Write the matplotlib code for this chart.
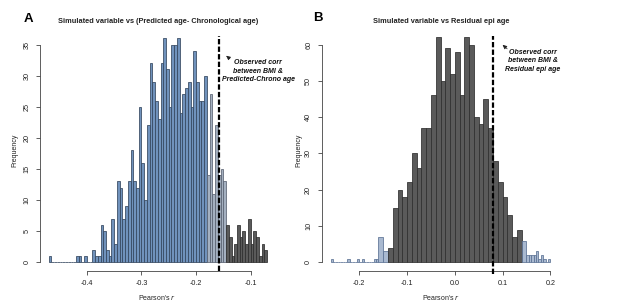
import numpy as np
import matplotlib
matplotlib.use("Agg")
import matplotlib.pyplot as plt

plt.rcParams['font.family'] = ['Liberation Sans', 'DejaVu Sans']

# ---------------- Panel A data (bins of 0.005 starting at -0.47) ----------------
a_bin_start = -0.47
a_bin_width = 0.005
a_counts = [1, 0, 0, 0, 0, 0, 0, 0, 0, 0,
            1, 1, 0, 1, 0, 0, 2, 1, 1, 6,
            5, 2, 1, 7, 3, 13, 12, 7, 9, 13,
            18, 13, 12, 25, 16, 10, 22, 32, 29, 26,
            23, 32, 36, 31, 25, 35, 35, 36, 24, 27,
            28, 29, 25, 34, 29, 26, 26, 30, 14, 27,
            11, 22, 14, 15, 13, 6, 4, 1, 3, 6,
            4, 5, 3, 7, 3, 5, 4, 1, 3, 2]
a_blend_from = -0.18     # bars from here are drawn in the blended tone
a_tail_from = -0.145     # bars from here are drawn dark grey
a_observed = -0.158
a_xticks = [-0.4, -0.3, -0.2, -0.1]
a_xticklabels = ["-0.4", "-0.3", "-0.2", "-0.1"]
a_yticks = [0, 5, 10, 15, 20, 25, 30, 35]
a_title = "Simulated variable vs (Predicted age- Chronological age)"
a_note = "Observed corr\nbetween BMI &\nPredicted-Chrono age"

# ---------------- Panel B data ----------------
b_main_start = -0.16
b_main_width = 0.01
b_main_counts = [7, 3, 4, 15, 20, 18, 22, 30, 26, 37,
                 37, 46, 62, 50, 59, 52, 58, 46, 62, 60,
                 40, 38, 45, 37, 28, 22, 18, 13, 7, 9, 6]
b_core_range = (-0.14, 0.14)   # dark grey bars inside this range
b_tail_width = 0.005
b_left_tail_start = -0.26
b_left_tail_counts = [1, 0, 0, 0, 0, 0, 0, 1, 0, 0,
                      0, 1, 0, 1, 0, 0, 0, 0, 1, 1]
b_right_tail_start = 0.15
b_right_tail_counts = [2, 2, 2, 2, 3, 1, 2, 1, 0, 1]
b_observed = 0.081
b_xticks = [-0.2, -0.1, 0.0, 0.1, 0.2]
b_xticklabels = ["-0.2", "-0.1", "0.0", "0.1", "0.2"]
b_yticks = [0, 10, 20, 30, 40, 50, 60]
b_title = "Simulated variable vs Residual epi age"
b_note = "Observed corr\nbetween BMI &\nResidual epi age"

xlabel = "Pearson's "
ylabel = "Frequency"

# ---------------- styles ----------------
BLUE, BLUE_E = "#7092bc", "#34465e"
LIGHT, LIGHT_E = "#a4b0c0", "#5a6272"
DARK, DARK_E = "#5a5a5a", "#2e2e2e"
TAIL, TAIL_E = "#a9b9d0", "#5b7294"
AXC = "#444444"
W, H = 617, 306

fig = plt.figure(figsize=(W / 100, H / 100), dpi=100)


def fpos(l, t, r, b):
    return [l / W, 1 - b / H, (r - l) / W, (b - t) / H]


def style_axes(ax, xticks, xlabels, yticks):
    for s in ("top", "right"):
        ax.spines[s].set_visible(False)
    for s in ("left", "bottom"):
        ax.spines[s].set_color(AXC)
        ax.spines[s].set_linewidth(0.6)
    ax.spines["bottom"].set_bounds(xticks[0], xticks[-1])
    ax.spines["left"].set_bounds(yticks[0], yticks[-1])
    ax.set_xticks(xticks)
    ax.set_xticklabels(xlabels)
    ax.set_yticks(yticks)
    ax.set_yticklabels([str(v) for v in yticks])
    ax.tick_params(axis="both", length=3, width=0.6, color=AXC,
                   labelsize=5.2, labelcolor="#222222")
    ax.tick_params(axis="x", pad=3.2)
    ax.tick_params(axis="y", pad=4)
    for lab in ax.get_yticklabels():
        lab.set_rotation(90)
        lab.set_va("center")


# ---------------- Panel A ----------------
axA = fig.add_axes(fpos(40, 29.4, 275.7, 271.3))
a_lefts = a_bin_start + a_bin_width * np.arange(len(a_counts))
a_cols, a_edges = [], []
for lft in a_lefts:
    if lft >= a_tail_from - 1e-9:
        a_cols.append(DARK); a_edges.append(DARK_E)
    elif lft >= a_blend_from - 1e-9:
        a_cols.append(LIGHT); a_edges.append(LIGHT_E)
    else:
        a_cols.append(BLUE); a_edges.append(BLUE_E)
axA.bar(a_lefts, a_counts, width=a_bin_width, align="edge",
        color=a_cols, edgecolor=a_edges, linewidth=0.55)
axA.set_xlim(-0.486, -0.054)
axA.set_ylim(-1.44, 37.44)
style_axes(axA, a_xticks, a_xticklabels, a_yticks)
axA.plot([a_observed, a_observed], [-1.44, 36.4], color="black", lw=1.6,
         ls=(0, (2.4, 1.0)), clip_on=False, zorder=5)

# ---------------- Panel B ----------------
axB = fig.add_axes(fpos(321.9, 28.4, 559.1, 271.3))
b_left_lefts = b_left_tail_start + b_tail_width * np.arange(len(b_left_tail_counts))
b_right_lefts = b_right_tail_start + b_tail_width * np.arange(len(b_right_tail_counts))
axB.bar(b_left_lefts, b_left_tail_counts, width=b_tail_width, align="edge",
        color=TAIL, edgecolor=TAIL_E, linewidth=0.55)
axB.bar(b_right_lefts, b_right_tail_counts, width=b_tail_width, align="edge",
        color=TAIL, edgecolor=TAIL_E, linewidth=0.55)
b_lefts = b_main_start + b_main_width * np.arange(len(b_main_counts))
b_cols, b_edges = [], []
for lft in b_lefts:
    if b_core_range[0] - 1e-9 <= lft < b_core_range[1] - 1e-9:
        b_cols.append(DARK); b_edges.append(DARK_E)
    else:
        b_cols.append(TAIL); b_edges.append(TAIL_E)
axB.bar(b_lefts, b_main_counts, width=b_main_width, align="edge",
        color=b_cols, edgecolor=b_edges, linewidth=0.55)
axB.set_xlim(-0.2784, 0.2184)
axB.set_ylim(-2.48, 64.48)
style_axes(axB, b_xticks, b_xticklabels, b_yticks)
axB.plot([b_observed, b_observed], [-3.2, 62.5], color="black", lw=1.6,
         ls=(0, (2.4, 1.0)), clip_on=False, zorder=5)

# ---------------- texts ----------------
def ftxt(x, y, s, **kw):
    fig.text(x / W, 1 - y / H, s, **kw)

ftxt(28, 19, "A", fontsize=9.5, fontweight="bold", ha="center", va="center")
ftxt(318, 18, "B", fontsize=9.5, fontweight="bold", ha="center", va="center")
ftxt(158, 21.7, a_title, fontsize=5.3, fontweight="bold", ha="center", va="center", color="#222222")
ftxt(440.8, 21.7, b_title, fontsize=5.3, fontweight="bold", ha="center", va="center", color="#222222")

for xc, lab in ((157, xlabel), (441.5, xlabel)):
    ftxt(xc, 297, lab + r"$\it{r}$", fontsize=5, ha="center", va="center", color="#222222")
ftxt(15, 150, ylabel, fontsize=5, rotation=90, ha="center", va="center", color="#222222")
ftxt(299, 150, ylabel, fontsize=5, rotation=90, ha="center", va="center", color="#222222")

ftxt(258, 71, a_note, fontsize=5, fontweight="bold", fontstyle="italic",
     ha="center", va="center", linespacing=1.25, color="#111111")
ftxt(532.5, 61, b_note, fontsize=5, fontweight="bold", fontstyle="italic",
     ha="center", va="center", linespacing=1.25, color="#111111")

astyle = "-|>,head_length=0.25,head_width=0.12"
fig.add_artist(matplotlib.patches.FancyArrowPatch(
    (232 / W, 1 - 60.5 / H), (224 / W, 1 - 54 / H), transform=fig.transFigure,
    arrowstyle=astyle, color="#222222", lw=0.5, mutation_scale=10))
fig.add_artist(matplotlib.patches.FancyArrowPatch(
    (509.3 / W, 1 - 50.7 / H), (500.5 / W, 1 - 43 / H), transform=fig.transFigure,
    arrowstyle=astyle, color="#222222", lw=0.5, mutation_scale=10))

fig.savefig("out.png", dpi=100)
